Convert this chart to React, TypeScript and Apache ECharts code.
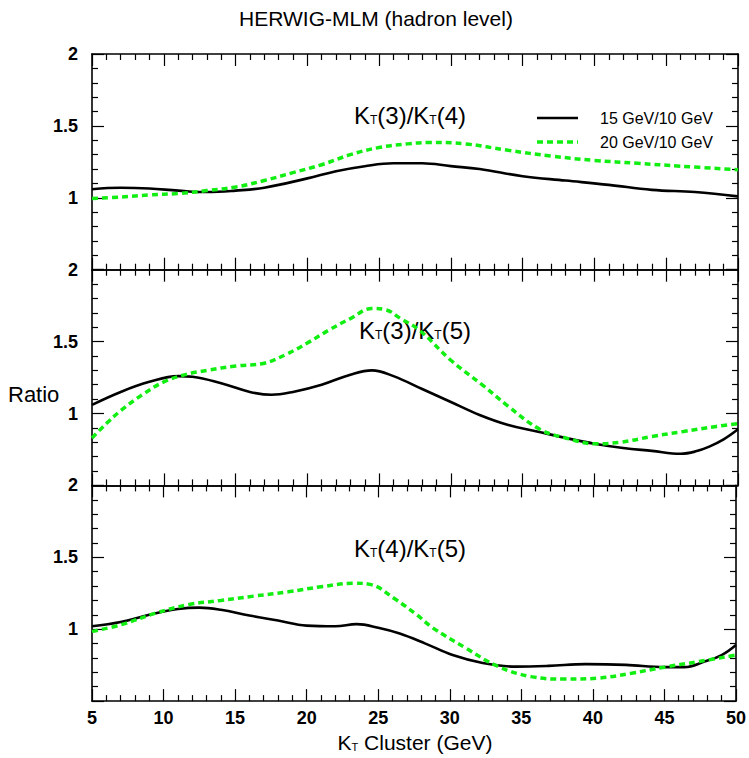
import React, { useEffect, useRef } from "react";
import * as echarts from "echarts";

const X_MIN = 5;
const X_MAX = 50;
const Y_MIN = 0.5;
const Y_MAX = 2;

const TITLE = "HERWIG-MLM (hadron level)";
const SERIES_NAMES = ["15 GeV/10 GeV", "20 GeV/10 GeV"];
const PANEL_LABELS = [
  ["3", "4"],
  ["3", "5"],
  ["4", "5"],
];

// Panel 1: KT(3)/KT(4)
const P1_15 = [
  [5, 1.06], [7, 1.07], [9, 1.065], [11, 1.05], [13, 1.04], [15, 1.05], [17, 1.07],
  [20, 1.135], [22, 1.185], [24, 1.22], [26, 1.24], [28, 1.24], [30, 1.22], [32, 1.2],
  [35, 1.15], [38, 1.12], [41, 1.09], [44, 1.055], [47, 1.04], [50, 1.01],
];
const P1_20 = [
  [5, 0.995], [7, 1.005], [9, 1.02], [11, 1.03], [13, 1.05], [15, 1.075], [17, 1.12],
  [19, 1.175], [21, 1.23], [23, 1.3], [25, 1.35], [27, 1.375], [28.5, 1.385], [31, 1.375],
  [34, 1.33], [37, 1.29], [40, 1.26], [43, 1.24], [46, 1.22], [50, 1.195],
];

// Panel 2: KT(3)/KT(5)
const P2_15 = [
  [5, 1.06], [7, 1.15], [9, 1.22], [11, 1.26], [12, 1.255], [14, 1.21], [16, 1.15],
  [17.5, 1.13], [19, 1.15], [21, 1.2], [23, 1.27], [24.5, 1.3], [26, 1.26], [28, 1.17],
  [30, 1.08], [32, 0.99], [34, 0.92], [36, 0.875], [38, 0.83], [40, 0.79], [42, 0.76],
  [44, 0.74], [46, 0.72], [47, 0.735], [48, 0.77], [49, 0.82], [50, 0.89],
];
const P2_20 = [
  [5, 0.83], [6, 0.93], [7, 1.02], [8.5, 1.13], [10, 1.22], [11.5, 1.27], [13, 1.3],
  [15, 1.33], [17, 1.35], [18.5, 1.41], [20, 1.49], [21.5, 1.58], [23, 1.66], [24.5, 1.73],
  [25.5, 1.72], [26.5, 1.66], [27.8, 1.58], [30, 1.37], [32.3, 1.19], [34, 1.05],
  [36.2, 0.89], [38, 0.83], [40, 0.79], [41.8, 0.8], [44, 0.84], [46.2, 0.875],
  [48.5, 0.91], [50, 0.93],
];

// Panel 3: KT(4)/KT(5)
const P3_15 = [
  [5, 1.02], [7, 1.05], [9, 1.1], [11, 1.14], [12.5, 1.15], [14, 1.135], [16, 1.095],
  [18, 1.06], [20, 1.025], [22, 1.02], [23.5, 1.035], [25, 1.01], [26.5, 0.97],
  [28.3, 0.9], [30.2, 0.82], [32.3, 0.765], [34.6, 0.74], [36.9, 0.745], [39.5, 0.757],
  [42.3, 0.752], [45, 0.736], [46.4, 0.736], [47.8, 0.775], [49, 0.82], [50, 0.89],
];
const P3_20 = [
  [5, 0.985], [7, 1.03], [9.4, 1.11], [11.7, 1.17], [14, 1.2], [16.3, 1.23], [18.7, 1.26],
  [21, 1.295], [23.3, 1.32], [24.5, 1.31], [26.1, 1.215], [27.7, 1.1], [28.8, 1.01],
  [31.1, 0.87], [33.4, 0.74], [35.7, 0.67], [38, 0.653], [40.4, 0.66], [42.7, 0.694],
  [45, 0.736], [47.4, 0.775], [50, 0.82],
];

const PANELS = [
  [P1_15, P1_20],
  [P2_15, P2_20],
  [P3_15, P3_20],
];

const FONT = "Liberation Sans";
const GREEN = "#11ee11";

export default function App() {
  const ref = useRef<HTMLDivElement>(null);

  useEffect(() => {
    if (!ref.current) return;
    const chart = echarts.init(ref.current, null, { renderer: "svg" });

    const gridTop = 54;
    const gridH = 215.7;
    const grids = PANELS.map((_, i) => ({
      left: 92,
      right: 11,
      top: gridTop + i * gridH,
      height: gridH,
    }));

    const axisLine = { show: true, lineStyle: { color: "#000", width: 1.6 } };
    const tick = { show: true, inside: true, length: 12, lineStyle: { color: "#000", width: 1.2 } };
    const minor = { show: true, splitNumber: 5, length: 6, lineStyle: { color: "#000", width: 1.2 } };

    const xAxes: any[] = [];
    const yAxes: any[] = [];
    PANELS.forEach((_, i) => {
      ["bottom", "top"].forEach((pos) => {
        xAxes.push({
          type: "value",
          gridIndex: i,
          position: pos,
          min: X_MIN,
          max: X_MAX,
          interval: 5,
          axisLine,
          axisTick: tick,
          minorTick: minor,
          splitLine: { show: false },
          axisLabel: {
            show: i === 2 && pos === "bottom",
            fontFamily: FONT,
            fontWeight: "bold",
            fontSize: 18,
            color: "#000",
            margin: 8,
          },
        });
      });
      ["left", "right"].forEach((pos) => {
        yAxes.push({
          type: "value",
          gridIndex: i,
          position: pos,
          min: Y_MIN,
          max: Y_MAX,
          interval: 0.5,
          axisLine,
          axisTick: tick,
          minorTick: minor,
          splitLine: { show: false },
          axisLabel: {
            show: pos === "left",
            formatter: (v: number) => (v === 0.5 ? "" : String(v)),
            fontFamily: FONT,
            fontWeight: "bold",
            fontSize: 18,
            color: "#000",
            margin: 14,
          },
        });
      });
    });

    const series: any[] = [];
    PANELS.forEach((pair, i) => {
      series.push({
        name: SERIES_NAMES[0],
        type: "line",
        xAxisIndex: i * 2,
        yAxisIndex: i * 2,
        data: pair[0],
        smooth: 0.4,
        symbol: "none",
        lineStyle: { color: "#000", width: 2.6 },
        itemStyle: { color: "#000" },
      });
      series.push({
        name: SERIES_NAMES[1],
        type: "line",
        xAxisIndex: i * 2,
        yAxisIndex: i * 2,
        data: pair[1],
        smooth: 0.4,
        symbol: "none",
        lineStyle: { color: GREEN, width: 3.5, type: [6, 4] },
        itemStyle: { color: GREEN },
      });
    });

    const kt = {
      k: { fontFamily: FONT, fontSize: 24, color: "#000" },
      t: { fontFamily: FONT, fontSize: 12, color: "#000", padding: [10, 0, 0, 0] },
    };
    const panelLabelPos = [
      [410, 115],
      [415, 330],
      [410, 548],
    ];

    const graphic: any[] = [
      {
        type: "text",
        x: 376,
        y: 18,
        style: {
          text: TITLE,
          font: `21px "${FONT}"`,
          fill: "#000",
          textAlign: "center",
          textVerticalAlign: "middle",
        },
      },
      {
        type: "text",
        x: 8,
        y: 394,
        style: {
          text: "Ratio",
          font: `22px "${FONT}"`,
          fill: "#000",
          textAlign: "left",
          textVerticalAlign: "middle",
        },
      },
      {
        type: "text",
        x: 415,
        y: 742,
        style: {
          text: "{k|K}{t|T}{k| Cluster (GeV)}",
          rich: {
            k: { fontFamily: FONT, fontSize: 21, color: "#000" },
            t: { fontFamily: FONT, fontSize: 11, color: "#000", padding: [9, 0, 0, 0] },
          },
          textAlign: "center",
          textVerticalAlign: "middle",
        },
      },
      {
        type: "line",
        shape: { x1: 537, y1: 118, x2: 578, y2: 118 },
        style: { stroke: "#000", lineWidth: 2.6 },
      },
      {
        type: "line",
        shape: { x1: 537, y1: 142, x2: 578, y2: 142 },
        style: { stroke: GREEN, lineWidth: 3.5, lineDash: [6, 4] },
      },
    ];
    SERIES_NAMES.forEach((nm, i) => {
      graphic.push({
        type: "text",
        x: 600,
        y: 118 + i * 24,
        style: {
          text: nm,
          font: `16px "${FONT}"`,
          fill: "#000",
          textAlign: "left",
          textVerticalAlign: "middle",
        },
      });
    });
    PANEL_LABELS.forEach((lab, i) => {
      graphic.push({
        type: "text",
        x: panelLabelPos[i][0],
        y: panelLabelPos[i][1],
        style: {
          text: `{k|K}{t|T}{k|(${lab[0]})/K}{t|T}{k|(${lab[1]})}`,
          rich: kt,
          textAlign: "center",
          textVerticalAlign: "middle",
        },
      });
    });

    chart.setOption({
      animation: false,
      backgroundColor: "#fff",
      grid: grids,
      xAxis: xAxes,
      yAxis: yAxes,
      graphic,
      series,
    });

    return () => chart.dispose();
  }, []);

  return (
    <div
      ref={ref}
      style={{ position: "fixed", left: 0, top: 0, width: 749, height: 758 }}
    />
  );
}
